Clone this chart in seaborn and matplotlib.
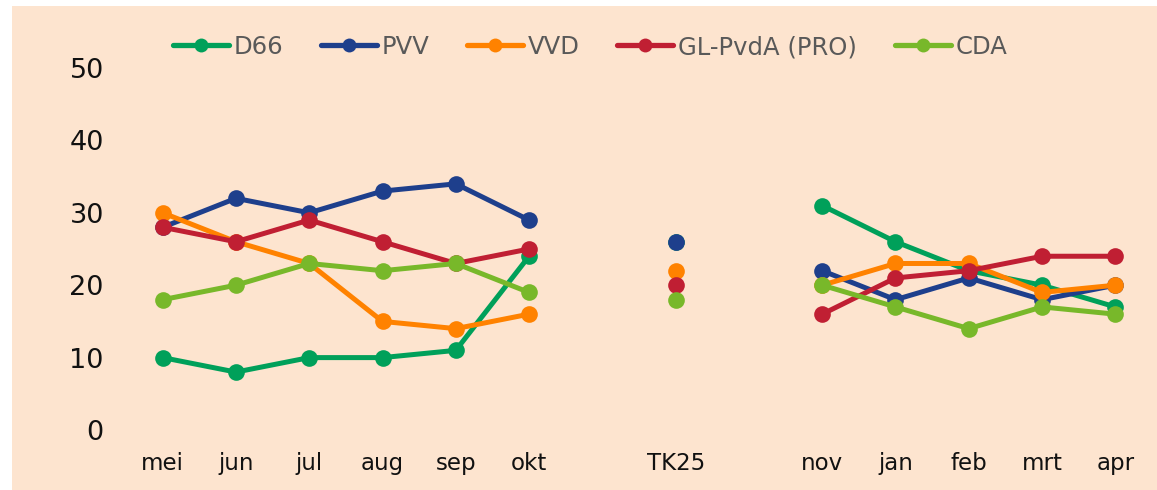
import pandas as pd
import numpy as np
import matplotlib.pyplot as plt
import seaborn as sns
from matplotlib.patches import Rectangle

# categorieën op de x-as (lege plekken rond TK25)
periods = ['mei', 'jun', 'jul', 'aug', 'sep', 'okt', '', 'TK25', '', 'nov', 'jan', 'feb', 'mrt', 'apr']

d66 = [10, 8, 10, 10, 11, 24, None, 26, None, 31, 26, 22, 20, 17]
pvv = [28, 32, 30, 33, 34, 29, None, 26, None, 22, 18, 21, 18, 20]
vvd = [30, 26, 23, 15, 14, 16, None, 22, None, 20, 23, 23, 19, 20]
glpvda = [28, 26, 29, 26, 23, 25, None, 20, None, 16, 21, 22, 24, 24]
cda = [18, 20, 23, 22, 23, 19, None, 18, None, 20, 17, 14, 17, 16]

parties = ['D66', 'PVV', 'VVD', 'GL-PvdA (PRO)', 'CDA']
series = [d66, pvv, vvd, glpvda, cda]
colors = ['#00a05a', '#1e3f8c', '#ff8200', '#c01f33', '#78b82a']
yticks = [0, 10, 20, 30, 40, 50]

# lange tabel, met segmenten zodat de lijnen bij de lege plekken breken
rows = []
for party, vals in zip(parties, series):
    seg = 0
    for i, v in enumerate(vals):
        if v is None:
            seg += 1
            continue
        rows.append({'party': party, 'pos': i, 'value': v, 'segment': seg})
df = pd.DataFrame(rows)

sns.set_theme(style='white')
plt.rcParams['font.family'] = ['DejaVu Sans']

bg = '#fde4cf'
fig = plt.figure(figsize=(11.57, 4.9), dpi=100)
fig.patches.append(Rectangle((12 / 1157, 0), 1 - 12 / 1157, 1 - 6 / 490,
                             transform=fig.transFigure, facecolor=bg,
                             edgecolor='none', zorder=-10))
ax = fig.add_axes([126 / 1157, 60 / 490, (1152 - 126) / 1157, (430 - 68) / 490])
ax.set_facecolor('none')

sns.lineplot(ax=ax, data=df, x='pos', y='value', hue='party', hue_order=parties,
             units='segment', estimator=None, palette=colors, marker='o',
             markersize=12, markeredgewidth=0, linewidth=3.6, sort=False)

ax.set_xlim(-0.5, len(periods) - 0.5)
ax.set_ylim(0, 50)
ax.set_xticks(range(len(periods)))
ax.set_xticklabels(periods, fontsize=16.5, color='#111111')
ax.set_yticks(yticks)
ax.set_yticklabels([str(t) for t in yticks], fontsize=19.5, color='#111111')
ax.tick_params(axis='x', length=0, pad=16)
ax.tick_params(axis='y', length=0, pad=16)
ax.set_xlabel('')
ax.set_ylabel('')
for s in ax.spines.values():
    s.set_visible(False)

handles, labels = ax.get_legend_handles_labels()
ax.get_legend().remove()
for h in handles:
    h.set_markersize(10)
    h.set_linewidth(3.8)
leg = fig.legend(handles, labels, loc='center', bbox_to_anchor=(0.51, 1 - 47 / 490),
                 ncol=5, frameon=False, fontsize=17.5, handlelength=2.3,
                 handletextpad=0.2, columnspacing=1.55)
for t in leg.get_texts():
    t.set_color('#595959')

fig.savefig('out.png', dpi=100)
